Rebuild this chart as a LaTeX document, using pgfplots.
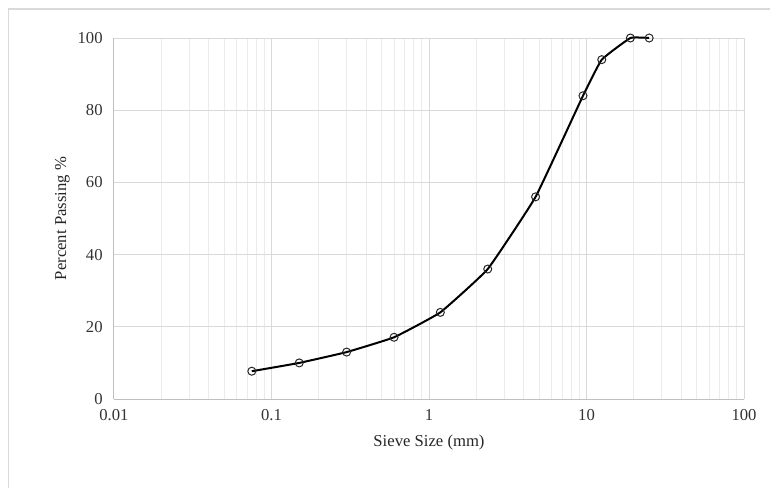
\documentclass[border=0pt]{standalone}
\usepackage{fontspec}
\setmainfont{Liberation Serif}
\usepackage{pgfplots}
\pgfplotsset{compat=1.18}
\definecolor{majgrid}{HTML}{D9D9D9}
\definecolor{mingrid}{HTML}{EBEBEB}
\definecolor{axcol}{HTML}{BFBFBF}
\definecolor{border}{HTML}{D9D9D9}
\begin{document}
\begin{tikzpicture}
\path[use as bounding box] (0pt,0pt) rectangle (577.5pt,365.25pt);
\draw[border, line width=0.75pt] (6pt,-2pt) -- (6pt,358.5pt) -- (580pt,358.5pt);
\begin{axis}[
  at={(85.5pt,66pt)}, anchor=south west,
  scale only axis, width=472.5pt, height=270.75pt,
  xmode=log, log basis x=10,
  xmin=0.01, xmax=100, ymin=0, ymax=100,
  xtick={0.01,0.1,1,10,100},
  xticklabels={0.01,0.1,1,10,100},
  minor xtick={0.02,0.03,0.04,0.05,0.06,0.07,0.08,0.09,0.2,0.3,0.4,0.5,0.6,0.7,0.8,0.9,2,3,4,5,6,7,8,9,20,30,40,50,60,70,80,90},
  ytick={0,20,40,60,80,100},
  xmajorgrids, xminorgrids, ymajorgrids,
  major grid style={majgrid, line width=0.75pt},
  minor grid style={mingrid, line width=0.75pt},
  axis x line=bottom, axis y line=left,
  axis line style={-, axcol, line width=0.75pt},
  major tick length=0pt, minor tick length=0pt,
  tick style={draw=none},
  /pgf/number format/assume math mode=true,
  ticklabel style={font=\fontsize{12.5}{14}\selectfont, text=black!80},
  xticklabel style={yshift=-4pt},
  yticklabel style={xshift=-5pt},
  label style={font=\fontsize{12.5}{14}\selectfont, text=black!85},
  xlabel={Sieve Size (mm)},
  ylabel={Percent Passing \%},
  xlabel style={yshift=-4pt},
  ylabel style={yshift=-1pt},
  clip=false,
]
\addplot[black, line width=1.5pt, smooth, tension=0.2,
  mark=o, mark size=3pt, mark options={line width=0.75pt, solid, black!85}]
  coordinates {
  (0.075,7.7) (0.15,10) (0.3,13) (0.6,17.1) (1.18,24) (2.36,36) (4.75,56) (9.5,84) (12.5,94) (19,100) (25,100)
  };
\end{axis}
\end{tikzpicture}
\end{document}
